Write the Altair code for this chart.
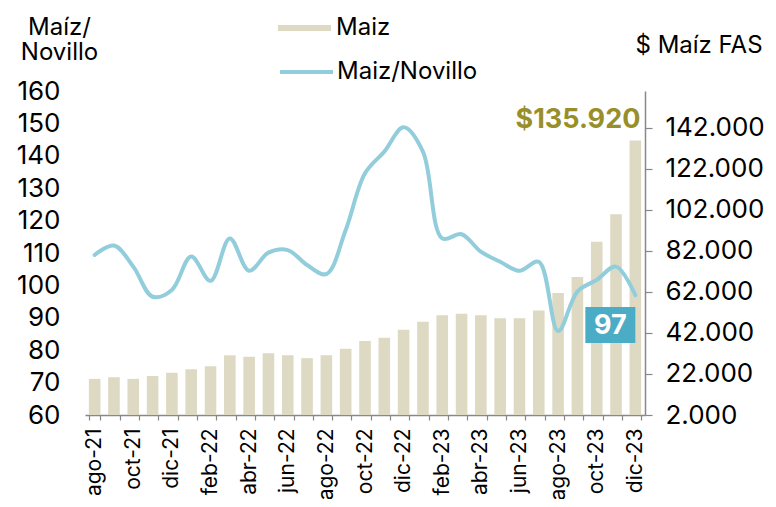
import json
import altair as alt
import pandas as pd

months = ["ago-21", "sep-21", "oct-21", "nov-21", "dic-21", "ene-22", "feb-22", "mar-22",
          "abr-22", "may-22", "jun-22", "jul-22", "ago-22", "sep-22", "oct-22", "nov-22",
          "dic-22", "ene-23", "feb-23", "mar-23", "abr-23", "may-23", "jun-23", "jul-23",
          "ago-23", "sep-23", "oct-23", "nov-23", "dic-23"]

maiz_fas = [19600, 20400, 19600, 21000, 22600, 24300, 25800, 31100, 30400, 32100,
            31100, 29700, 31100, 34300, 38100, 39700, 43600, 47500, 50600, 51400,
            50600, 49200, 49200, 52900, 61500, 69300, 86500, 99900, 135920]

maiz_novillo = [109.4, 112.3, 105.8, 96.5, 98.6, 108.9, 101.4, 114.5, 104.5, 110.1,
                110.9, 106.3, 103.5, 117.1, 134.6, 141.3, 148.8, 141.3, 114.5, 115.8,
                110.4, 107.3, 104.5, 107.3, 85.9, 98.1, 101.7, 105.8, 97]

left_ticks = [60, 70, 80, 90, 100, 110, 120, 130, 140, 150, 160]
right_ticks = [2000, 22000, 42000, 62000, 82000, 102000, 122000, 142000]
shown_months = months[::2]

bar_name = "Maiz"
line_name = "Maiz/Novillo"

df = pd.DataFrame({
    "mes": months,
    "maiz": maiz_fas,
    "ratio": maiz_novillo,
    "s_bar": bar_name,
    "s_line": line_name,
})
df["maiz_lbl"] = df["maiz"].map(lambda v: "$" + f"{v:,.0f}".replace(",", "."))
df["ratio_lbl"] = df["ratio"].map(lambda v: f"{v:.0f}")

FONT = "Inter"
BAR_COLOR = "#DDD9C3"
LINE_COLOR = "#92CDDC"
BOX_COLOR = "#4BACC6"
GOLD = "#988F2A"
last = months[-1]

x_axis = alt.Axis(
    title=None,
    labelAngle=-90, labelFont=FONT, labelFontSize=21, labelColor="black",
    labelPadding=8, tickBand="extent", tickSize=5, tickColor="#888888",
    domainColor="#888888", domainWidth=1.5, tickWidth=1.2, labelOverlap=False,
    labelExpr=f"indexof({json.dumps(shown_months)}, datum.label) >= 0 ? datum.label : ''",
)
x_scale = alt.Scale(paddingInner=0.4, paddingOuter=0.2)
x_enc = alt.X("mes:N", sort=months, title=None, scale=x_scale, axis=x_axis)

right_axis = alt.Axis(
    orient="right", values=right_ticks, grid=False, labelOverlap=False,
    labelExpr="replace(format(datum.value, ','), ',', '.')",
    labelFont=FONT, labelFontSize=26, labelColor="black",
    labelPadding=13, tickSize=7, tickColor="#888888", domainColor="#888888",
    domainWidth=1.5, tickWidth=1.2,
    title="$ Maíz FAS", titleAngle=0, titleFont=FONT, titleFontSize=24,
    titleFontWeight="normal", titleColor="black", titleAlign="left",
    titleBaseline="alphabetic", titleX=-10, titleY=-39,
)

left_axis = alt.Axis(
    orient="left", values=left_ticks, grid=False, domain=False, ticks=False,
    tickSize=0, labelFont=FONT, labelFontSize=26, labelColor="black",
    labelPadding=25, labelOverlap=False,
    title=["Maíz/", "Novillo"], titleAngle=0, titleFont=FONT, titleFontSize=24,
    titleFontWeight="normal", titleColor="black", titleAlign="center",
    titleBaseline="alphabetic", titleX=-26, titleY=-57, titleLineHeight=25,
)

y_right_scale = alt.Scale(domain=[2000, 160000], zero=False, nice=False)
y_left_scale = alt.Scale(domain=[60, 160], zero=False, nice=False)

y_right = alt.Y("maiz:Q", scale=y_right_scale, axis=right_axis)
y_left = alt.Y("ratio:Q", scale=y_left_scale, axis=left_axis)

base = alt.Chart(df)

bars = base.mark_bar(clip=True).encode(
    x=x_enc,
    y=y_right,
    fill=alt.Fill(
        "s_bar:N", scale=alt.Scale(domain=[bar_name], range=[BAR_COLOR]),
        legend=alt.Legend(
            title=None, orient="none", legendX=193, legendY=-89.5,
            symbolType="M-1,-0.115H1V0.115H-1Z", symbolSize=2809,
            symbolStrokeWidth=0, labelFont=FONT, labelFontSize=24,
            labelColor="black", labelOffset=5, padding=0,
        ),
    ),
)

bar_label = base.transform_filter(alt.datum.mes == last).mark_text(
    font=FONT, fontSize=27, fontWeight="bold", color=GOLD,
    align="right", baseline="alphabetic", dx=5, dy=-12,
).encode(
    x=x_enc,
    y=y_right,
    text="maiz_lbl:N",
)

line = base.mark_line(
    strokeWidth=4, interpolate="catmull-rom", strokeCap="round", strokeJoin="round",
).encode(
    x=x_enc,
    y=y_left,
    stroke=alt.Stroke(
        "s_line:N", scale=alt.Scale(domain=[line_name], range=[LINE_COLOR]),
        legend=alt.Legend(
            title=None, orient="none", legendX=193, legendY=-47.5,
            symbolType="stroke", symbolSize=2809, symbolStrokeWidth=4,
            labelFont=FONT, labelFontSize=24, labelColor="black", labelOffset=2,
            padding=0,
        ),
    ),
)

box = base.transform_filter(alt.datum.mes == last).mark_point(
    shape="M-1,-0.72H1V0.72H-1Z", size=2500, filled=True, fill=BOX_COLOR,
    opacity=1, strokeWidth=0, xOffset=-25, yOffset=30,
).encode(
    x=x_enc,
    y=y_left,
)

box_label = base.transform_filter(alt.datum.mes == last).mark_text(
    font=FONT, fontSize=27, fontWeight="bold", color="white",
    align="center", baseline="middle", dx=-25, dy=31,
).encode(
    x=x_enc,
    y=y_left,
    text="ratio_lbl:N",
)

right_layer = alt.layer(bars, bar_label)
left_layer = alt.layer(line, box, box_label)

chart = alt.layer(right_layer, left_layer).resolve_scale(
    y="independent"
).properties(
    width=560, height=324,
    padding={"left": 77, "top": 83, "right": 123, "bottom": 84},
    autosize=alt.AutoSizeParams(type="none"),
    background="white",
).configure_view(stroke=None)

chart.save("out.html", embed_options={"renderer": "svg", "actions": False})
